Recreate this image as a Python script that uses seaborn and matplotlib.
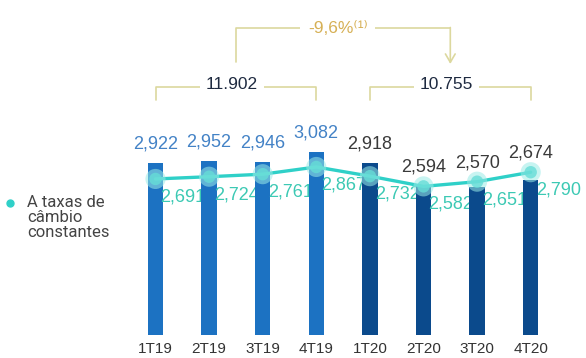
import numpy as np
import pandas as pd
import matplotlib
matplotlib.use("Agg")
import matplotlib.pyplot as plt
from matplotlib.lines import Line2D
import seaborn as sns

# Quarterly figures (reported and at constant exchange rates)
quarters = ["1T19", "2T19", "3T19", "4T19", "1T20", "2T20", "3T20", "4T20"]
years = ["2019", "2019", "2019", "2019", "2020", "2020", "2020", "2020"]
reported = [2922, 2952, 2946, 3082, 2918, 2594, 2570, 2674]
constant_fx = [2691, 2724, 2761, 2867, 2732, 2582, 2651, 2790]

# Annual totals and change
year_totals = ["11.902", "10.755"]
year_change = "-9,6%⁽¹⁾"
legend_text = "A taxas de\ncâmbio\nconstantes"

bar_colors = {"2019": "#1c72c2", "2020": "#0b4a8c"}
value_colors = {"2019": "#4382c6", "2020": "#3a3a3a"}
line_color = "#2fd0c8"
label_teal = "#3cc9b4"
bracket_color = "#dcd89e"

sns.set_style("white")
plt.rcParams["font.family"] = ["Liberation Sans", "DejaVu Sans"]

df = pd.DataFrame({"quarter": quarters, "year": years,
                   "reported": reported, "constant": constant_fx})

fig = plt.figure(figsize=(5.86, 3.58), dpi=100)
ax = fig.add_axes([128.7 / 586, 23 / 358, 428.8 / 586, 195 / 358])

sns.barplot(data=df, x="quarter", y="reported", hue="year",
            palette=bar_colors, width=0.29, dodge=False, legend=False,
            saturation=1, ax=ax)

pos = np.arange(len(quarters))
# stack each bar above the previous quarter's labels
for patch in ax.patches:
    i = int(round(patch.get_x() + patch.get_width() / 2))
    patch.set_zorder(2 + i)
    patch.set_edgecolor("none")

ax.plot(pos, constant_fx, color=line_color, lw=2.4, zorder=30,
        solid_capstyle="round")
ax.scatter(pos, constant_fx, s=210, color="#9aebe7", alpha=0.55,
           edgecolor="none", zorder=31)
ax.scatter(pos, constant_fx, s=80, color="#66ddd7", alpha=0.8,
           edgecolor="none", zorder=32)

ax.set_xlim(-0.5, 7.5)
ax.set_ylim(400, 3263)

# value labels above each bar
for i, (r, c, y) in enumerate(zip(reported, constant_fx, years)):
    ax.annotate(f"{r:,}", (i, max(r, c)), xytext=(0, 19),
                textcoords="offset pixels", ha="center", va="center",
                fontsize=13, color=value_colors[y], zorder=40,
                annotation_clip=False)
    ax.annotate(f"{c:,}", (i, c), xytext=(5, -18),
                textcoords="offset pixels", ha="left", va="center",
                fontsize=13, color=label_teal, zorder=2 + i + 0.5)

ax.set_xlabel("")
ax.set_ylabel("")
ax.set_yticks([])
ax.tick_params(axis="x", length=0, pad=5, labelsize=11, labelcolor="#333333")
for s in ax.spines.values():
    s.set_visible(False)

# annual brackets
tr = ax.get_xaxis_transform()
y_br, y_br_low = 1.272, 1.205
for (x0, x1), total in zip([(0, 3), (4, 7)], year_totals):
    ax.plot([x0, x0, x1, x1], [y_br_low, y_br, y_br, y_br_low], transform=tr,
            color=bracket_color, lw=1.2, clip_on=False)
    ax.text((x0 + x1) / 2 - 0.07, 1.287, total, transform=tr, ha="center",
            va="center", fontsize=12.5, color="#1e2a40",
            bbox=dict(boxstyle="square,pad=0.35", fc="white", ec="none"),
            zorder=50)

# year-over-year change bracket with arrow
y_top, y_top_low = 1.574, 1.40
ax.plot([1.5, 1.5, 5.5], [y_top_low, y_top, y_top], transform=tr,
        color=bracket_color, lw=1.2, clip_on=False)
ax.annotate("", xy=(5.5, y_top_low - 0.01), xytext=(5.5, y_top + 0.003),
            xycoords=tr, textcoords=tr,
            arrowprops=dict(arrowstyle="->,head_length=0.6,head_width=0.35",
                            color=bracket_color, lw=1.2, shrinkA=0, shrinkB=0))
ax.text(3.4, y_top, year_change, transform=tr, ha="center", va="center",
        fontsize=12.5, color="#d6b055",
        bbox=dict(boxstyle="square,pad=0.45", fc="white", ec="none"), zorder=50)

# legend for the constant-rate line
fig.add_artist(Line2D([10 / 586], [1 - 203 / 358], marker="o", ms=5,
                      color=line_color, transform=fig.transFigure))
fig.text(27 / 586, 1 - 195 / 358, legend_text, ha="left", va="top",
         fontsize=12, color="#444444", family=["Roboto", "DejaVu Sans"],
         linespacing=1.0)

fig.savefig("out.png", dpi=100)
